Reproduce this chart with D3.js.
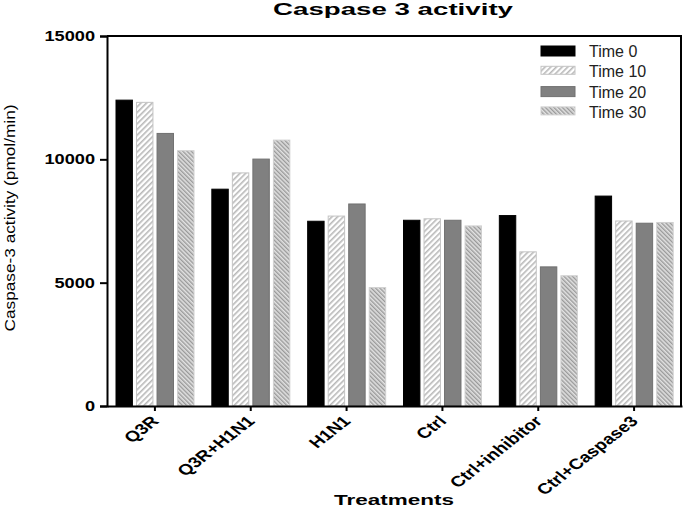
<!DOCTYPE html>
<html><head><meta charset="utf-8">
<script src="https://cdn.jsdelivr.net/npm/d3@7"></script>
<style>body{margin:0;background:#fff}svg{display:block;font-family:"Liberation Sans",Arial,sans-serif}</style>
</head><body><svg id="c" width="685" height="515"></svg>
<script>
const categories = ["Q3R","Q3R+H1N1","H1N1","Ctrl","Ctrl+inhibitor","Ctrl+Caspase3"];
const seriesNames = ["Time 0","Time 10","Time 20","Time 30"];
const time0  = [12400, 8790, 7490, 7530, 7720, 8510];
const time10 = [12310, 9450, 7700, 7590, 6250, 7500];
const time20 = [11050, 10010, 8190, 7530, 5640, 7410];
const time30 = [10350, 10780, 4800, 7300, 5280, 7440];
const yTicks = [0, 5000, 10000, 15000];
const seriesValues = [time0, time10, time20, time30];

const svg = d3.select("#c");
const m = {l:107, t:36, r:3, b:109};
const W = 685, H = 515;
const x0 = d3.scaleBand().domain(categories).range([m.l, W - m.r]).padding(0);
const x1 = d3.scaleBand().domain(seriesNames).range([9, 87]).paddingInner(0.2);
const y = d3.scaleLinear().domain([0, 15000]).range([H - m.b, m.t]);

const defs = svg.append("defs");
const p1 = defs.append("pattern").attr("id","h10").attr("patternUnits","userSpaceOnUse")
  .attr("width",4).attr("height",4).attr("patternTransform","rotate(45)");
p1.append("rect").attr("width",4).attr("height",4).attr("fill","#fff");
p1.append("rect").attr("width",1.6).attr("height",4).attr("fill","#b8b8b8");
const p3 = defs.append("pattern").attr("id","h30").attr("patternUnits","userSpaceOnUse")
  .attr("width",3).attr("height",3).attr("patternTransform","rotate(-45)");
p3.append("rect").attr("width",3).attr("height",3).attr("fill","#e2e2e2");
p3.append("rect").attr("width",1.4).attr("height",3).attr("fill","#9a9a9a");

const fills = ["#000", "url(#h10)", "#808080", "url(#h30)"];
const strokes = ["#000", "#c4c4c4", "#707070", "#d0d0d0"];

// bars
categories.forEach((c, ci) => {
  const g = svg.append("g").attr("transform", `translate(${x0(c)},0)`);
  seriesNames.forEach((s, si) => {
    const v = seriesValues[si][ci];
    g.append("rect").attr("x", x1(s)).attr("width", x1.bandwidth())
      .attr("y", y(v)).attr("height", y(0) - y(v))
      .attr("fill", fills[si]).attr("stroke", strokes[si]).attr("stroke-width", 1);
  });
});

// frame top/right
svg.append("path").attr("d", `M${m.l},${m.t}H${W - m.r - 1}V${H - m.b}`)
  .attr("fill","none").attr("stroke","#000").attr("stroke-width",2);

// y axis
const ya = svg.append("g").attr("transform", `translate(${m.l},0)`)
  .call(d3.axisLeft(y).tickValues(yTicks).tickSize(7).tickPadding(5).tickFormat(d3.format("d")));
ya.select(".domain").attr("stroke-width",2);
ya.selectAll(".tick line").attr("stroke-width",2);
ya.selectAll("text").attr("font-size",14).attr("font-weight","bold").attr("fill","#000")
  .attr("font-family","'Liberation Sans',Arial,sans-serif")
  .each(function(){ const L = this.getComputedTextLength();
    d3.select(this).attr("textLength", L * 1.3).attr("lengthAdjust","spacingAndGlyphs"); });

// x axis
const xa = svg.append("g").attr("transform", `translate(0,${H - m.b})`)
  .call(d3.axisBottom(x0).tickSize(5).tickSizeOuter(0));
xa.select(".domain").attr("stroke-width",2);
xa.selectAll(".tick line").attr("stroke-width",2);
xa.selectAll("text").attr("font-size",15).attr("font-weight","bold").attr("fill","#000")
  .attr("font-family","'Liberation Sans',Arial,sans-serif")
  .attr("text-anchor","end").attr("dy",0).attr("y",0)
  .attr("transform","translate(5,16) scale(1.28,1) rotate(-45)");

// titles
svg.append("text").attr("x",393).attr("y",15).attr("text-anchor","middle")
  .attr("font-size",17).attr("font-weight","bold")
  .attr("textLength",240).attr("lengthAdjust","spacingAndGlyphs").text("Caspase 3 activity");
svg.append("text").attr("transform","translate(15,218) rotate(-90)").attr("text-anchor","middle")
  .attr("font-size",15).attr("fill","#000").attr("textLength",227).attr("lengthAdjust","spacingAndGlyphs")
  .text("Caspase-3 activity (pmol/min)");
svg.append("text").attr("x",394).attr("y",505).attr("text-anchor","middle")
  .attr("font-size",15).attr("font-weight","bold")
  .attr("textLength",120).attr("lengthAdjust","spacingAndGlyphs").text("Treatments");

// legend
const lg = svg.append("g");
seriesNames.forEach((s, i) => {
  const yy = 51 + i * 20.3;
  lg.append("rect").attr("x",541).attr("y",yy - 5).attr("width",34).attr("height",i===1||i===3?8:10)
    .attr("fill",fills[i]).attr("stroke",strokes[i]).attr("stroke-width",1);
  lg.append("text").attr("x",589).attr("y",yy + 6).attr("font-size",16).attr("fill","#222").text(s);
});
</script></body></html>
